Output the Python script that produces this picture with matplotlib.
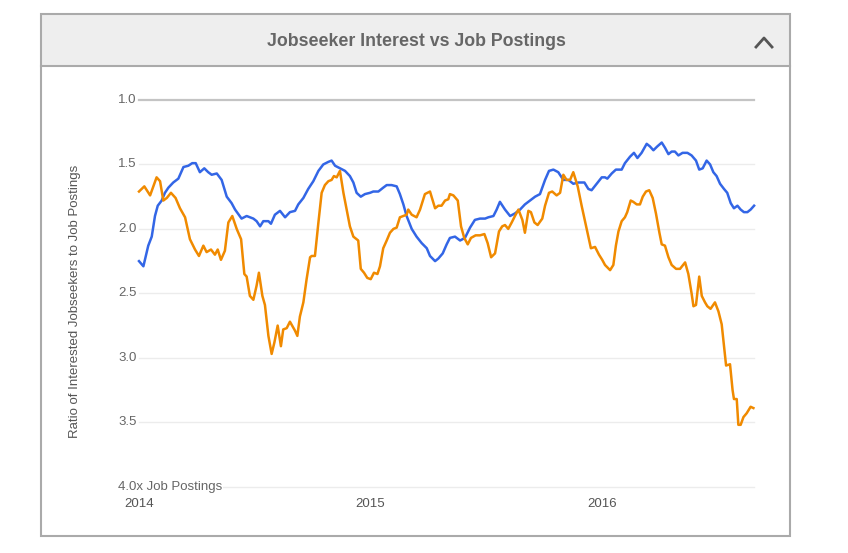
import matplotlib
matplotlib.use("Agg")
import matplotlib.pyplot as plt
from matplotlib.patches import Rectangle
from matplotlib.lines import Line2D

plt.rcParams['font.family'] = ['Liberation Sans', 'DejaVu Sans']

# years after 1 Jan 2014 -> ratio (blue series)
blue_t = [0.000, 0.019, 0.040, 0.055, 0.069, 0.081, 0.098, 0.112, 0.127, 0.148, 0.170, 0.192, 0.213,
          0.230, 0.245, 0.263, 0.282, 0.299, 0.314, 0.336, 0.357, 0.379, 0.400, 0.415, 0.443, 0.465,
          0.494, 0.508, 0.523, 0.537, 0.559, 0.570, 0.587, 0.609, 0.631, 0.652, 0.674,
          0.688, 0.710, 0.731, 0.753, 0.775, 0.796, 0.818, 0.832, 0.847, 0.868, 0.890, 0.911, 0.926,
          0.940, 0.958, 0.976, 0.998, 1.012, 1.034, 1.055, 1.070, 1.091, 1.113, 1.127, 1.142, 1.156,
          1.178, 1.199, 1.221, 1.243, 1.257, 1.279, 1.293, 1.312, 1.329, 1.343,
          1.365, 1.387, 1.408, 1.430, 1.451, 1.473, 1.495, 1.509, 1.531, 1.545, 1.559, 1.581, 1.603,
          1.624, 1.646, 1.667, 1.689, 1.711, 1.732, 1.754, 1.771, 1.790, 1.811, 1.833, 1.855, 1.876,
          1.898, 1.924, 1.941, 1.955, 1.977, 1.999, 2.013,
          2.023, 2.042, 2.060, 2.085, 2.099, 2.121, 2.138, 2.153, 2.171, 2.193, 2.207, 2.222, 2.239,
          2.258, 2.272, 2.287, 2.301, 2.315, 2.330, 2.348, 2.369, 2.387, 2.406, 2.420, 2.435, 2.452,
          2.467, 2.481, 2.495, 2.510, 2.527, 2.541, 2.556, 2.570, 2.585, 2.599, 2.613, 2.628, 2.642, 2.657]
blue_v = [2.25, 2.29, 2.13, 2.06, 1.90, 1.82, 1.78, 1.72, 1.68, 1.64, 1.61, 1.52, 1.51,
          1.49, 1.49, 1.56, 1.53, 1.56, 1.58, 1.57, 1.62, 1.75, 1.80, 1.85, 1.92, 1.90,
          1.92, 1.94, 1.98, 1.94, 1.94, 1.96, 1.89, 1.86, 1.91, 1.87, 1.86,
          1.81, 1.76, 1.69, 1.63, 1.55, 1.50, 1.48, 1.47, 1.51, 1.53, 1.55, 1.59, 1.64,
          1.72, 1.75, 1.73, 1.72, 1.71, 1.71, 1.68, 1.66, 1.66, 1.67, 1.73, 1.81, 1.90,
          2.00, 2.06, 2.11, 2.15, 2.21, 2.25, 2.23, 2.19, 2.12, 2.07,
          2.06, 2.09, 2.07, 1.99, 1.93, 1.92, 1.92, 1.91, 1.90, 1.85, 1.79, 1.85, 1.90,
          1.88, 1.85, 1.81, 1.78, 1.75, 1.73, 1.62, 1.55, 1.54, 1.56, 1.62, 1.62, 1.65,
          1.64, 1.64, 1.69, 1.70, 1.65, 1.60, 1.60,
          1.61, 1.57, 1.54, 1.54, 1.49, 1.44, 1.41, 1.45, 1.41, 1.34, 1.36, 1.39, 1.36,
          1.33, 1.37, 1.42, 1.40, 1.40, 1.43, 1.41, 1.41, 1.43, 1.47, 1.54, 1.53, 1.47,
          1.50, 1.56, 1.59, 1.65, 1.69, 1.72, 1.80, 1.84, 1.82, 1.85, 1.87, 1.87, 1.85, 1.82]

# years after 1 Jan 2014 -> ratio (orange series)
orange_t = [0.000, 0.023, 0.048, 0.062, 0.076, 0.091, 0.105, 0.120, 0.138, 0.158, 0.177, 0.199, 0.220,
            0.242, 0.259, 0.278, 0.292, 0.311, 0.328, 0.340, 0.354, 0.371, 0.386, 0.403, 0.422, 0.441,
            0.455, 0.465, 0.479, 0.494, 0.508, 0.518, 0.533, 0.544, 0.559, 0.573, 0.585, 0.599, 0.613,
            0.623, 0.638, 0.652, 0.674,
            0.684, 0.695, 0.710, 0.724, 0.739, 0.746, 0.760, 0.775, 0.789, 0.803, 0.818, 0.832, 0.842,
            0.854, 0.868, 0.883, 0.897, 0.911, 0.926, 0.947, 0.958, 0.972, 0.986, 1.001, 1.015, 1.030,
            1.041, 1.055, 1.070, 1.084, 1.099, 1.113, 1.127, 1.142, 1.156, 1.163, 1.178, 1.199, 1.214,
            1.235, 1.257, 1.279, 1.293, 1.307, 1.322, 1.336, 1.343,
            1.358, 1.377, 1.391, 1.405, 1.420, 1.434, 1.454, 1.473, 1.492, 1.506, 1.521, 1.538, 1.555,
            1.569, 1.581, 1.595, 1.610, 1.624, 1.639, 1.656, 1.667, 1.682, 1.693, 1.708, 1.722, 1.742,
            1.754, 1.771, 1.785, 1.804, 1.819, 1.833, 1.847, 1.862, 1.876, 1.895, 1.912, 1.934, 1.952,
            1.970, 1.987, 2.001, 2.013,
            2.035, 2.049, 2.060, 2.071, 2.085, 2.099, 2.109, 2.124, 2.135, 2.150, 2.164, 2.176, 2.190,
            2.204, 2.219, 2.233, 2.248, 2.258, 2.272, 2.287, 2.301, 2.320, 2.337, 2.359, 2.373, 2.387,
            2.395, 2.406, 2.420, 2.431, 2.445, 2.455, 2.469, 2.488, 2.503, 2.517, 2.527, 2.536, 2.553,
            2.564, 2.570, 2.582, 2.589, 2.599, 2.611, 2.625, 2.642, 2.654]
orange_v = [1.71, 1.67, 1.74, 1.67, 1.60, 1.63, 1.78, 1.76, 1.72, 1.76, 1.84, 1.91, 2.08,
            2.16, 2.21, 2.13, 2.18, 2.16, 2.20, 2.16, 2.24, 2.17, 1.95, 1.90, 2.00, 2.08,
            2.35, 2.37, 2.52, 2.55, 2.44, 2.34, 2.52, 2.59, 2.83, 2.97, 2.88, 2.75, 2.91,
            2.78, 2.77, 2.72, 2.79,
            2.83, 2.68, 2.57, 2.39, 2.22, 2.21, 2.21, 1.95, 1.72, 1.66, 1.63, 1.62, 1.59,
            1.60, 1.55, 1.72, 1.85, 1.98, 2.06, 2.09, 2.31, 2.34, 2.38, 2.39, 2.34, 2.35,
            2.29, 2.15, 2.09, 2.03, 2.00, 1.99, 1.91, 1.90, 1.89, 1.85, 1.89, 1.91, 1.85,
            1.73, 1.71, 1.84, 1.82, 1.82, 1.78, 1.77, 1.73,
            1.74, 1.78, 1.98, 2.07, 2.12, 2.07, 2.05, 2.05, 2.04, 2.11, 2.22, 2.19, 2.02,
            1.98, 1.97, 2.00, 1.95, 1.90, 1.85, 1.93, 2.03, 1.86, 1.87, 1.95, 1.97, 1.92,
            1.82, 1.72, 1.71, 1.74, 1.72, 1.58, 1.62, 1.62, 1.56, 1.67, 1.82, 2.00, 2.15,
            2.14, 2.20, 2.24, 2.28,
            2.32, 2.28, 2.13, 2.02, 1.94, 1.91, 1.87, 1.78, 1.79, 1.81, 1.81, 1.75, 1.71,
            1.70, 1.76, 1.88, 2.03, 2.12, 2.13, 2.22, 2.28, 2.31, 2.31, 2.26, 2.35, 2.50,
            2.60, 2.59, 2.37, 2.52, 2.57, 2.60, 2.62, 2.57, 2.64, 2.74, 2.91, 3.06, 3.05,
            3.25, 3.32, 3.32, 3.52, 3.52, 3.46, 3.43, 3.38, 3.39]

y_ticks = [1.0, 1.5, 2.0, 2.5, 3.0, 3.5, 4.0]
y_labels = ['1.0', '1.5', '2.0', '2.5', '3.0', '3.5', '4.0x Job Postings']
x_ticks = [2014, 2015, 2016]
x_labels = ['2014', '2015', '2016']

W, H = 848, 553
fig = plt.figure(figsize=(W / 100, H / 100), dpi=100)


def fx(px):
    return px / W


def fy(py):
    return 1 - py / H


# panel frame and header
fig.add_artist(Rectangle((fx(41), fy(66)), fx(790) - fx(41), fy(14) - fy(66),
                         transform=fig.transFigure, facecolor='#eeeeee', edgecolor='none'))
fig.add_artist(Line2D([fx(41), fx(790)], [fy(66), fy(66)], transform=fig.transFigure,
                      color='#aaaaaa', lw=1.5))
fig.add_artist(Rectangle((fx(41), fy(536)), fx(790) - fx(41), fy(14) - fy(536),
                         transform=fig.transFigure, facecolor='none', edgecolor='#aaaaaa', lw=1.5))
fig.text(fx(416), fy(41), 'Jobseeker Interest vs Job Postings', ha='center', va='center',
         fontsize=12.8, fontweight='bold', color='#666666')
fig.add_artist(Line2D([fx(756), fx(764), fx(772)], [fy(47), fy(38), fy(47)],
                      transform=fig.transFigure, color='#555555', lw=2.0))

# plot area
x0, x1 = 139, 753.7
ytop, ybot = 100, 486.7
ax = fig.add_axes([fx(x0), fy(ybot), fx(x1) - fx(x0), fy(ytop) - fy(ybot)])
ax.set_xlim(2014, 2014 + (x1 - x0) / 231.5)
ax.set_ylim(4.0, 1.0)
for s in ax.spines.values():
    s.set_visible(False)
ax.set_xticks([])
ax.set_yticks([])
ax.patch.set_alpha(0)

for v in y_ticks:
    if v == 1.0:
        ax.axhline(v, color='#c4c4c4', lw=1.6, clip_on=False, zorder=1)
    else:
        ax.axhline(v, color='#ececec', lw=1.0, clip_on=False, zorder=1)

ytrans = ax.get_yaxis_transform()
for v, lab in zip(y_ticks, y_labels):
    ax.text((118 - x0) / (x1 - x0), v, lab, transform=ytrans, ha='left', va='center',
            fontsize=9.5, color='#666666', zorder=3,
            bbox=dict(facecolor='white', edgecolor='none', pad=0.3) if v == 4.0 else None)

xtrans = ax.get_xaxis_transform()
for t, lab in zip(x_ticks, x_labels):
    ax.text(t, -(504 - ybot) / (ybot - ytop), lab, transform=xtrans, ha='center', va='center',
            fontsize=9.5, color='#555555')

ax.plot([2014 + t for t in blue_t], blue_v, color='#3366e6', lw=1.8, zorder=4, clip_on=False)
ax.plot([2014 + t for t in orange_t], orange_v, color='#f08a00', lw=1.8, zorder=5, clip_on=False)

fig.text(fx(75), fy(301), 'Ratio of Interested Jobseekers to Job Postings', rotation=90,
         ha='center', va='center', fontsize=9.5, color='#555555')

fig.savefig('out.png', dpi=100)
